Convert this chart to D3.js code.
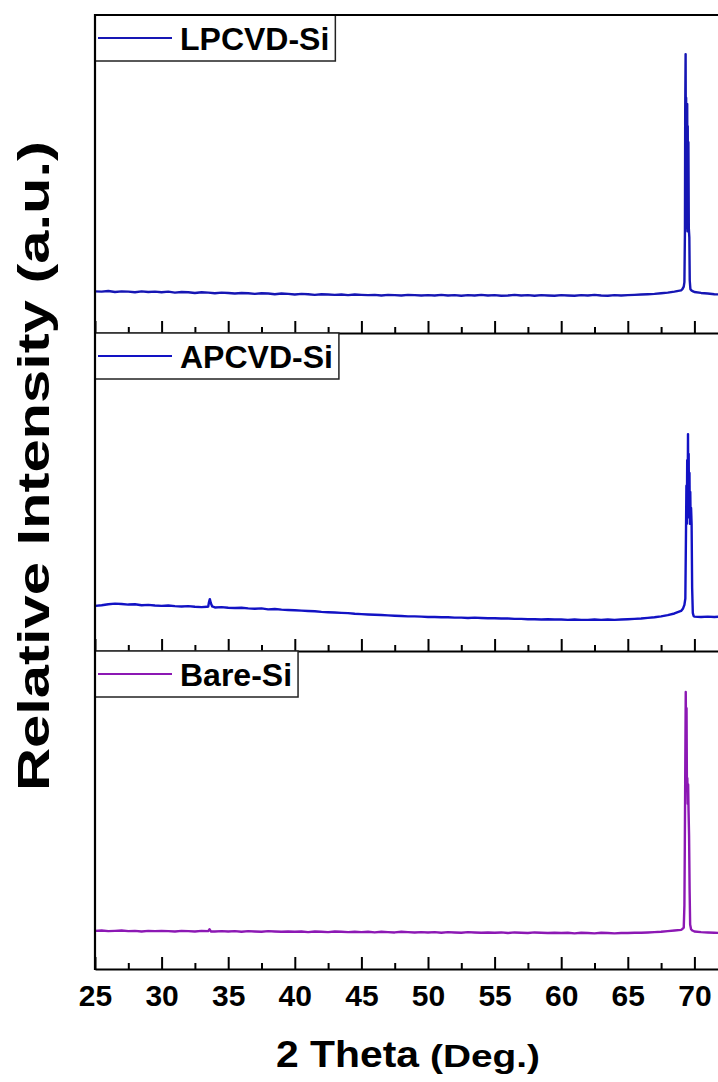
<!DOCTYPE html>
<html>
<head>
<meta charset="utf-8">
<script src="https://cdn.jsdelivr.net/npm/d3@7"></script>
<style>
  html, body { margin: 0; padding: 0; background: #fff; }
  svg { display: block; font-family: "Liberation Sans", Arial, sans-serif; }
</style>
</head>
<body>
<svg id="chart" width="718" height="1082"></svg>
<script>
// Coarse 2-theta scan grid (deg) shared by the three patterns
const scanTheta = [
  25, 25.5, 26, 26.5, 27, 27.5, 28, 28.5, 29, 29.5,
  30, 30.5, 31, 31.5, 32, 32.5, 33, 33.5, 34, 34.5,
  35, 35.5, 36, 36.5, 37, 37.5, 38, 38.5, 39, 39.5,
  40, 40.5, 41, 41.5, 42, 42.5, 43, 43.5, 44, 44.5,
  45, 45.5, 46, 46.5, 47, 47.5, 48, 48.5, 49, 49.5,
  50, 50.5, 51, 51.5, 52, 52.5, 53, 53.5, 54, 54.5,
  55, 55.5, 56, 56.5, 57, 57.5, 58, 58.5, 59, 59.5,
  60, 60.5, 61, 61.5, 62, 62.5, 63, 63.5, 64, 64.5,
  65, 65.5, 66, 66.5, 67, 67.5, 68, 68.5,
  70, 70.5, 71, 71.5, 72
];

// LPCVD-Si intensity (a.u.) on the scan grid
const lpcvdScan = [
  131, 130, 132, 129, 131, 130, 128, 131, 129, 130,
  128, 130, 127, 129, 128, 126, 128, 127, 125, 127,
  126, 124, 126, 125, 123, 125, 124, 122, 124, 123,
  121, 123, 122, 120, 122, 121, 120, 121, 119, 121,
  120, 119, 120, 118, 120, 119, 118, 120, 119, 118,
  119, 118, 120, 118, 119, 117, 119, 118, 120, 118,
  119, 117, 118, 120, 118, 119, 117, 119, 118, 117,
  119, 118, 117, 119, 118, 120, 118, 117, 119, 118,
  119, 120, 121, 122, 123, 125, 127, 130,
  129, 126, 124, 122, 121
];
// LPCVD-Si fine steps across the Si (400) reflection
const lpcvdFineTheta = [69, 69.1, 69.2, 69.25, 69.29, 69.31, 69.34, 69.36, 69.38, 69.40, 69.42, 69.44, 69.46, 69.48, 69.50, 69.52, 69.55, 69.58, 69.62, 69.65, 69.7, 69.8, 69.9];
const lpcvdFine      = [134, 138, 146, 160, 320, 700, 877, 560, 740, 330, 700, 350, 720, 320, 650, 340, 600, 330, 300, 165, 138, 133, 131];

// APCVD-Si intensity (a.u.) on the scan grid
const apcvdScan = [
  142, 144, 147, 149, 148, 146, 147, 144, 145, 143,
  142, 143, 141, 140, 141, 139, 138, 140, 137, 138,
  136, 135, 136, 134, 133, 134, 131, 132, 130, 129,
  128, 127, 126, 125, 123, 122, 121, 120, 119, 117,
  116, 115, 114, 113, 112, 111, 110, 109, 109, 108,
  107, 107, 106, 106, 105, 105, 104, 105, 104, 103,
  103, 102, 102, 101, 101, 100, 100, 99, 100, 99,
  99, 98, 99, 98, 98, 99, 98, 99, 98, 99,
  100, 101, 102, 104, 106, 109, 113, 118,
  108, 107, 108, 107, 108
];
// APCVD-Si fine steps: Si (200) bump and Si (400) reflection
const apcvdFineTheta = [33.4, 33.55, 33.62, 33.7, 33.8, 69, 69.15, 69.25, 69.32, 69.37, 69.40, 69.43, 69.46, 69.49, 69.52, 69.54, 69.57, 69.60, 69.63, 69.66, 69.69, 69.72, 69.75, 69.79, 69.83, 69.88, 69.94];
const apcvdFine      = [139, 152, 163, 150, 140, 126, 134, 145, 165, 380, 520, 400, 600, 450, 682, 480, 620, 420, 560, 400, 500, 405, 450, 400, 200, 120, 110];

// Bare-Si intensity (a.u.) on the scan grid
const bareScan = [
  120, 121, 119, 120, 121, 119, 120, 118, 120, 119,
  120, 119, 118, 120, 119, 118, 120, 119, 118, 119,
  118, 119, 117, 119, 118, 117, 119, 118, 117, 118,
  117, 118, 116, 118, 117, 116, 118, 117, 116, 117,
  116, 117, 115, 117, 116, 115, 117, 116, 115, 116,
  115, 116, 114, 116, 115, 114, 116, 115, 114, 115,
  114, 115, 113, 115, 114, 113, 115, 114, 113, 114,
  113, 114, 112, 114, 113, 112, 114, 113, 112, 113,
  113, 114, 114, 115, 116, 117, 119, 121,
  118, 116, 115, 114, 113
];
// Bare-Si fine steps
const bareFineTheta = [33.6, 33.7, 69, 69.1, 69.2, 69.25, 69.28, 69.31, 69.35, 69.38, 69.41, 69.44, 69.47, 69.50, 69.53, 69.56, 69.60, 69.64, 69.68, 69.75, 69.85];
const bareFine      = [125, 118, 123, 126, 130, 200, 385, 600, 871, 700, 820, 560, 600, 520, 580, 500, 420, 250, 140, 125, 121];

const sampleNames  = ["LPCVD-Si", "APCVD-Si", "Bare-Si"];
const sampleColors = ["#1616b4", "#1212c4", "#8c18b4"];

const majorTicks = [25, 30, 35, 40, 45, 50, 55, 60, 65, 70, 75];
const minorTicks = [27.5, 32.5, 37.5, 42.5, 47.5, 52.5, 57.5, 62.5, 67.5, 72.5];
const tickLabels = [25, 30, 35, 40, 45, 50, 55, 60, 65, 70];

function pattern(theta, values, fineTheta, fine) {
  const pts = theta.map((t, i) => ({ t, v: values[i] }))
    .concat(fineTheta.map((t, i) => ({ t, v: fine[i] })));
  return pts.sort((a, b) => a.t - b.t);
}

const patterns = [
  pattern(scanTheta, lpcvdScan, lpcvdFineTheta, lpcvdFine),
  pattern(scanTheta, apcvdScan, apcvdFineTheta, apcvdFine),
  pattern(scanTheta, bareScan, bareFineTheta, bareFine)
];

const svg = d3.select("#chart");
svg.append("rect").attr("width", 718).attr("height", 1082).attr("fill", "#fff");

const plotLeft = 95, plotTop = 15, panelH = 318;
const x = d3.scaleLinear().domain([25, 75]).range([plotLeft, plotLeft + 666]);
const plotBottom = plotTop + panelH * 3;

patterns.forEach((data, i) => {
  const pTop = plotTop + i * panelH;
  const pBot = pTop + panelH;
  const y = d3.scaleLinear().domain([0, 1000]).range([pBot, pTop]);

  const clipId = "clip" + i;
  svg.append("clipPath").attr("id", clipId)
    .append("rect").attr("x", plotLeft).attr("y", pTop).attr("width", 700).attr("height", panelH);

  const line = d3.line().x(d => x(d.t)).y(d => y(d.v));
  svg.append("path")
    .datum(data)
    .attr("clip-path", `url(#${clipId})`)
    .attr("d", line)
    .attr("fill", "none")
    .attr("stroke", sampleColors[i])
    .attr("stroke-width", 2.4)
    .attr("stroke-linejoin", "round");

  // inward ticks along the bottom edge of each panel
  const isLast = i === patterns.length - 1;
  const major = d3.axisBottom(x).tickValues(isLast ? tickLabels : majorTicks)
    .tickSizeInner(-12).tickSizeOuter(0).tickPadding(16)
    .tickFormat(isLast ? d3.format("d") : "");
  const gMajor = svg.append("g").attr("transform", `translate(0,${pBot})`).call(major);
  gMajor.select(".domain").attr("stroke", "#000").attr("stroke-width", 2.2);
  gMajor.selectAll(".tick line").attr("stroke", "#000").attr("stroke-width", 2);
  gMajor.selectAll(".tick text")
    .attr("fill", "#000").attr("font-size", 30).attr("font-weight", "bold")
    .attr("font-family", "Liberation Sans, Arial, sans-serif");

  const minor = d3.axisBottom(x).tickValues(minorTicks)
    .tickSizeInner(-6).tickSizeOuter(0).tickFormat("");
  const gMinor = svg.append("g").attr("transform", `translate(0,${pBot})`).call(minor);
  gMinor.select(".domain").remove();
  gMinor.selectAll(".tick line").attr("stroke", "#000").attr("stroke-width", 2);

  // legend box
  const lg = svg.append("g");
  const box = lg.append("rect").attr("x", plotLeft).attr("y", pTop).attr("height", 46)
    .attr("fill", "#fff").attr("stroke", "#222").attr("stroke-width", 1.5);
  lg.append("line").attr("x1", plotLeft + 3).attr("x2", plotLeft + 77)
    .attr("y1", pTop + 23).attr("y2", pTop + 23)
    .attr("stroke", sampleColors[i]).attr("stroke-width", 2.2);
  const label = lg.append("text").attr("x", plotLeft + 85).attr("y", pTop + 34.5)
    .attr("font-size", 32).attr("font-weight", "bold").attr("fill", "#000")
    .text(sampleNames[i]);
  const w = label.node().getComputedTextLength();
  box.attr("width", 85 + w + 6);
});

// outer frame: top edge and left axis
svg.append("line").attr("x1", plotLeft).attr("x2", 718).attr("y1", plotTop).attr("y2", plotTop)
  .attr("stroke", "#000").attr("stroke-width", 2.2);
svg.append("line").attr("x1", plotLeft).attr("x2", plotLeft).attr("y1", plotTop - 1).attr("y2", plotBottom + 1)
  .attr("stroke", "#000").attr("stroke-width", 2.2);

// axis titles
svg.append("text").attr("x", 276).attr("y", 1067)
  .attr("font-size", 37).attr("font-weight", "bold").attr("fill", "#000")
  .attr("textLength", 143).attr("lengthAdjust", "spacingAndGlyphs")
  .text("2 Theta");
svg.append("text").attr("x", 430).attr("y", 1067)
  .attr("font-size", 32).attr("font-weight", "bold").attr("fill", "#000")
  .attr("textLength", 110).attr("lengthAdjust", "spacingAndGlyphs")
  .text("(Deg.)");

svg.append("text")
  .attr("transform", "translate(49,466) rotate(-90)")
  .attr("text-anchor", "middle")
  .attr("font-size", 44).attr("font-weight", "bold").attr("fill", "#000")
  .attr("textLength", 650).attr("lengthAdjust", "spacingAndGlyphs")
  .text("Relative Intensity (a.u.)");
</script>
</body>
</html>
